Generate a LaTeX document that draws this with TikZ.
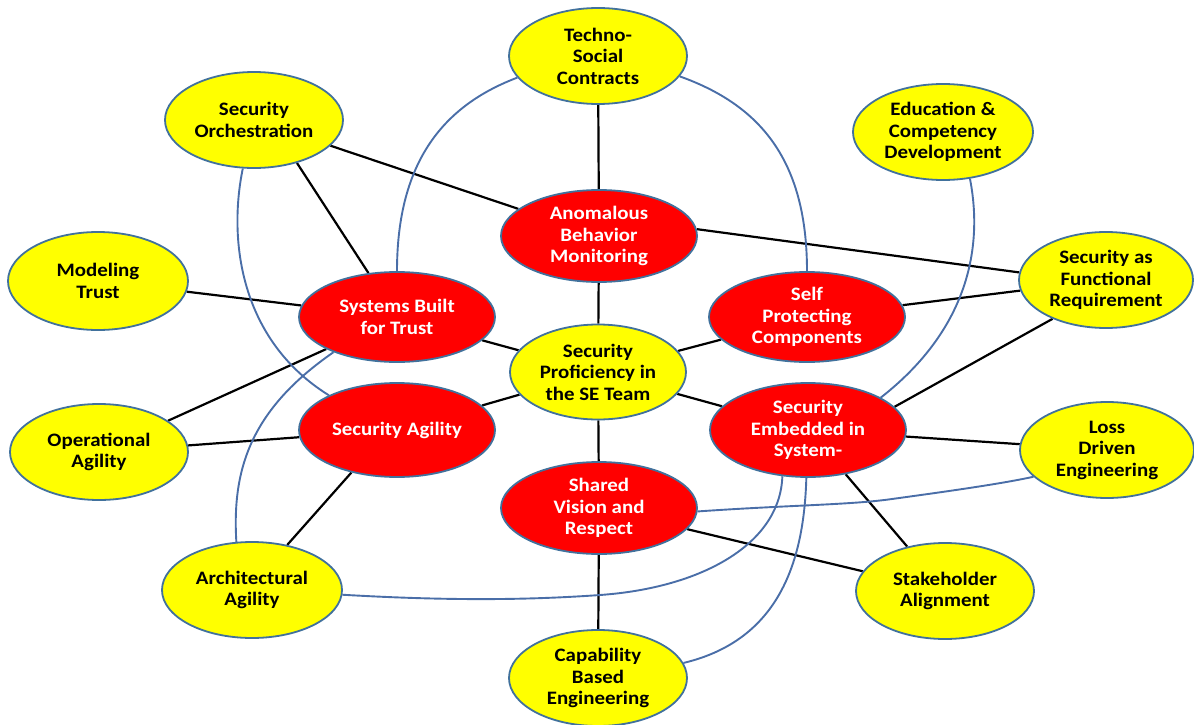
\documentclass[tikz,border=0pt]{standalone}
\usepackage{fontspec}
\setmainfont{Carlito}[FakeStretch=1.1]
\usetikzlibrary{shapes.geometric,backgrounds}
\definecolor{rimblue}{HTML}{41719C}
\definecolor{curveblue}{HTML}{4A6EA8}
\definecolor{yfill}{HTML}{FFFF00}
\definecolor{rfill}{HTML}{FF0000}
\tikzset{
  bub/.style={ellipse, draw=rimblue, line width=1.8pt, inner sep=0pt, align=center,
    font=\fontsize{19}{21.5}\selectfont\bfseries},
  ybub/.style={bub, fill=yfill, text=black},
  rbub/.style={bub, fill=rfill, text=white},
  blk/.style={draw=black, line width=2.2pt},
  blu/.style={draw=curveblue, line width=1.9pt},
}
\begin{document}
\begin{tikzpicture}[x=1pt,y=-1pt]
\useasboundingbox (0,0) rectangle (1194,725);
% yellow nodes
\node[ybub, minimum width=178pt, minimum height=96pt] (tsc) at (598,56) {Techno-\\Social\\Contracts};
\node[ybub, minimum width=178pt, minimum height=96pt] (so) at (254,120) {Security\\Orchestration};
\node[ybub, minimum width=180pt, minimum height=96pt] (ed) at (943,132) {Education \&\\Competency\\Development};
\node[ybub, minimum width=180pt, minimum height=98pt] (mt) at (98,281) {Modeling\\Trust};
\node[ybub, minimum width=174pt, minimum height=96pt] (sfr) at (1106,280) {Security as\\Functional\\Requirement};
\node[ybub, minimum width=176pt, minimum height=95pt] (sp) at (598,372) {Security\\Proficiency in\\the SE Team};
\node[ybub, minimum width=178pt, minimum height=96pt] (oa) at (99,452) {Operational\\Agility};
\node[ybub, minimum width=174pt, minimum height=96pt] (ld) at (1107,450) {Loss\\Driven\\Engineering};
\node[ybub, minimum width=180pt, minimum height=96pt] (aa) at (252,590) {Architectural\\Agility};
\node[ybub, minimum width=178pt, minimum height=96pt] (sa2) at (945,591) {Stakeholder\\Alignment};
\node[ybub, minimum width=178pt, minimum height=96pt] (cb) at (598,678) {Capability\\Based\\Engineering};
% red nodes
\node[rbub, minimum width=196pt, minimum height=92pt] (abm) at (599,236) {Anomalous\\Behavior\\Monitoring};
\node[rbub, minimum width=196pt, minimum height=90pt] (sbt) at (397,317) {Systems Built\\for Trust};
\node[rbub, minimum width=196pt, minimum height=90pt] (spc) at (807,317) {Self\\Protecting\\Components};
\node[rbub, minimum width=196pt, minimum height=94pt] (sag) at (397,430) {Security Agility};
\node[rbub, minimum width=196pt, minimum height=94pt] (se) at (808,430) {Security\\Embedded in\\System-};
\node[rbub, minimum width=196pt, minimum height=92pt] (sv) at (599,508) {Shared\\Vision and\\Respect};
\begin{scope}[on background layer]
% black connectors
\draw[blk] (tsc) -- (abm);
\draw[blk] (abm) -- (sp);
\draw[blk] (sp) -- (sv);
\draw[blk] (sv) -- (cb);
\draw[blk] (so) -- (abm);
\draw[blk] (so.-45) -- (sbt);
\draw[blk] (abm.4) -- (sfr.175);
\draw[blk] (mt) -- (sbt);
\draw[blk] (sbt) -- (sp);
\draw[blk] (oa) -- (sbt);
\draw[blk] (spc) -- (sfr);
\draw[blk] (sp) -- (spc);
\draw[blk] (sfr.-144) -- (se.15);
\draw[blk] (sp) -- (sag);
\draw[blk] (sp) -- (se);
\draw[blk] (oa) -- (sag);
\draw[blk] (sag.223) -- (aa.52);
\draw[blk] (se) -- (ld);
\draw[blk] (se) -- (sa2);
\draw[blk] (sv) -- (sa2);
% blue curves
\draw[blu] (tsc.195) .. controls (445,105) and (397,160) .. (sbt.north);
\draw[blu] (tsc.-14) .. controls (760,105) and (807,160) .. (spc.north);
\draw[blu] (so.-103) .. controls (228,240) and (240,340) .. (sag.153);
\draw[blu] (sbt.209) .. controls (250,410) and (232,470) .. (aa.108);
\draw[blu] (ed.-60) .. controls (980,230) and (980,320) .. (se.24);
\draw[blu] (aa.-3) .. controls (450,601) and (530,600) .. (600,595) .. controls (700,588) and (780,545) .. (se.-119);
\draw[blu] (cb.10) .. controls (780,640) and (804,560) .. (se.-92);
\draw[blu] (sv.-2) .. controls (790,505) and (850,505) .. (892,499) .. controls (950,491) and (1000,484) .. (ld.200);
\end{scope}
\end{tikzpicture}
\end{document}
